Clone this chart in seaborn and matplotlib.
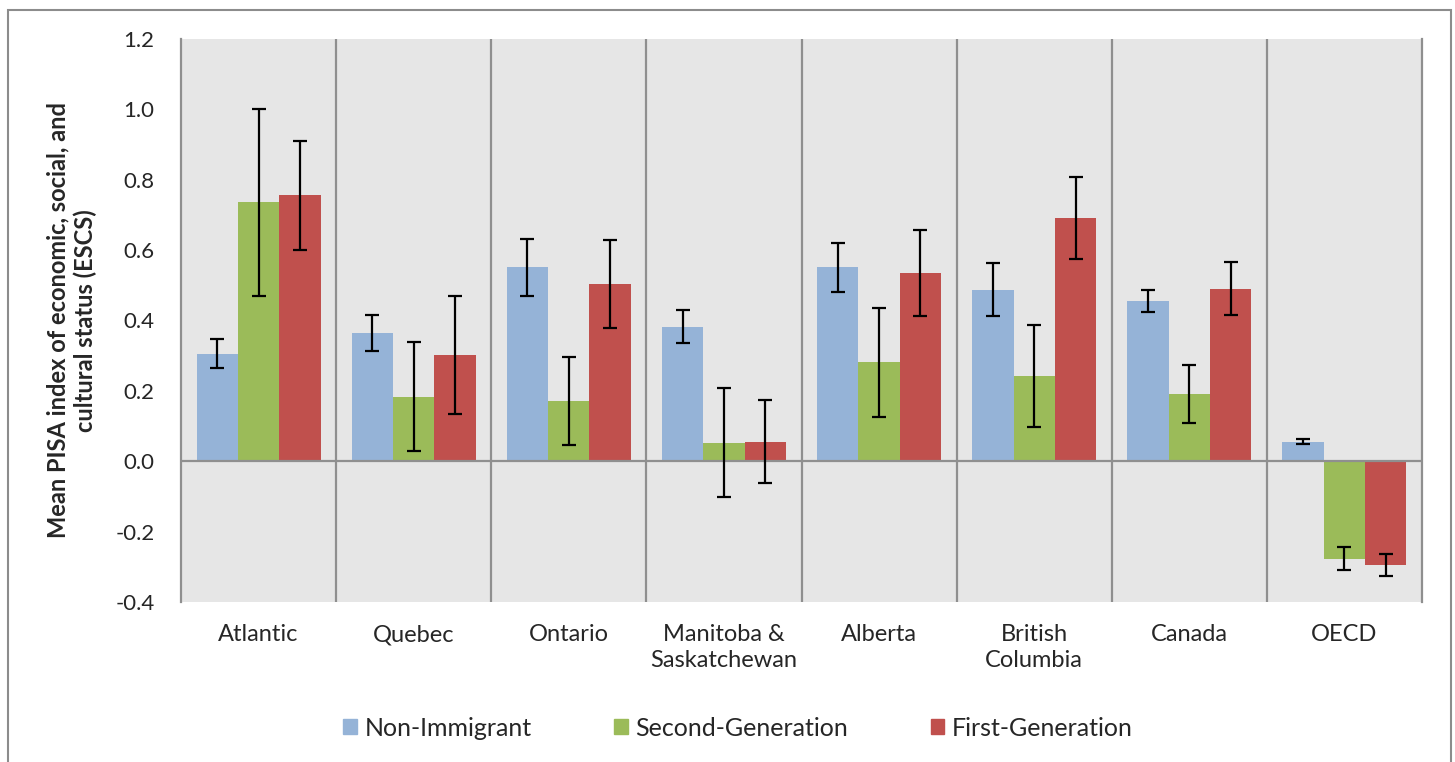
import numpy as np
import pandas as pd
import seaborn as sns
import matplotlib.pyplot as plt
from matplotlib.patches import Rectangle

# Values
regions = ['Atlantic', 'Quebec', 'Ontario', 'Manitoba &\nSaskatchewan', 'Alberta',
           'British\nColumbia', 'Canada', 'OECD']
groups = ['Non-Immigrant', 'Second-Generation', 'First-Generation']

non_immigrant = [0.306, 0.364, 0.551, 0.382, 0.551, 0.487, 0.455, 0.056]
second_gen = [0.736, 0.184, 0.172, 0.053, 0.281, 0.241, 0.192, -0.277]
first_gen = [0.756, 0.303, 0.505, 0.056, 0.534, 0.692, 0.490, -0.295]

non_immigrant_err = [0.041, 0.052, 0.080, 0.047, 0.070, 0.075, 0.032, 0.008]
second_gen_err = [0.265, 0.154, 0.125, 0.154, 0.154, 0.145, 0.082, 0.032]
first_gen_err = [0.155, 0.168, 0.125, 0.119, 0.122, 0.117, 0.075, 0.032]

colors = ['#95B3D7', '#9BBB59', '#C0504D']

# Long-form table for seaborn
data = pd.DataFrame({
    'Region': regions * 3,
    'Group': np.repeat(groups, len(regions)),
    'ESCS': non_immigrant + second_gen + first_gen,
})

sns.set_style('white')
plt.rcParams['font.family'] = ['Lato', 'DejaVu Sans']

fig = plt.figure(figsize=(14.55, 7.62), dpi=100)
ax = fig.add_axes([181 / 1455, 1 - 602 / 762, (1422 - 181) / 1455, (602 - 39) / 762])
ax.set_facecolor('#E6E6E6')

sns.barplot(data=data, x='Region', y='ESCS', hue='Group', palette=colors,
            order=regions, hue_order=groups, errorbar=None, width=0.8,
            saturation=1, linewidth=0, ax=ax, zorder=2, legend=False)

# Error bars at the bar centres seaborn placed
errs = [non_immigrant_err, second_gen_err, first_gen_err]
vals = [non_immigrant, second_gen, first_gen]
for cont, v, err in zip(ax.containers, vals, errs):
    xs = [b.get_x() + b.get_width() / 2 for b in cont]
    ax.errorbar(xs, v, yerr=err, fmt='none', ecolor='black',
                elinewidth=1.6, capsize=5, capthick=1.6, zorder=4)

ax.set_ylim(-0.4, 1.2)
ax.set_xlim(-0.5, len(regions) - 0.5)
yt = np.arange(-0.4, 1.21, 0.2)
ax.set_yticks(yt)
ax.set_yticklabels([f'{v:.1f}' for v in yt])

# Vertical gridlines between categories and the zero axis line
for b in np.arange(0.5, len(regions) - 0.5, 1):
    ax.axvline(b, color='#8F8F8F', lw=1.6, zorder=1)
ax.axhline(0, color='#8F8F8F', lw=1.6, zorder=3)

for side in ['top', 'bottom']:
    ax.spines[side].set_visible(False)
for side in ['left', 'right']:
    ax.spines[side].set_color('#8F8F8F')
    ax.spines[side].set_linewidth(1.6)

ax.tick_params(axis='y', length=0, pad=19, labelsize=16)
ax.tick_params(axis='x', length=0, pad=16, labelsize=17)
for lbl in ax.get_xticklabels():
    lbl.set_linespacing(1.3)

ax.set_xlabel('')
ax.set_ylabel('Mean PISA index of economic, social, and\ncultural status (ESCS)',
              fontsize=17, fontweight='bold', labelpad=13, linespacing=1.2)

handles = [Rectangle((0, 0), 1, 1, color=c) for c in colors]
fig.legend(handles, groups, loc='center', bbox_to_anchor=(738 / 1455, 1 - 728 / 762),
           ncol=3, frameon=False, fontsize=18, handlelength=0.55, handleheight=0.55,
           handletextpad=0.3, columnspacing=3.3)

# Outer chart border
fig.add_artist(Rectangle((7.5 / 1455, -0.05), (1451 - 7.5) / 1455, 1.05 - 10 / 762,
                         transform=fig.transFigure, fill=False, edgecolor='#8C8C8C',
                         lw=1.5))

fig.savefig('out.png', dpi=100)
